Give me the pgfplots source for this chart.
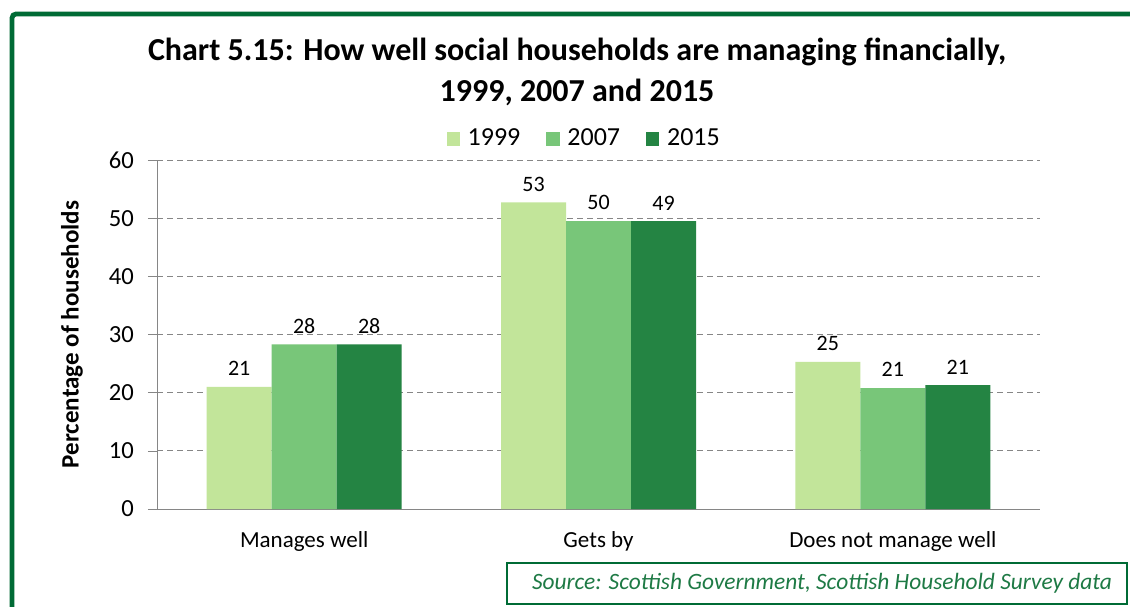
\documentclass[border=0pt]{standalone}
\usepackage{fontspec}
\setmainfont{Carlito}
\usepackage{pgfplots}
\pgfplotsset{compat=1.18}
\definecolor{framegreen}{HTML}{006B35}
\definecolor{cA}{HTML}{C2E59A}
\definecolor{cB}{HTML}{78C679}
\definecolor{cC}{HTML}{248443}
\definecolor{axgray}{HTML}{868686}
\definecolor{srcgreen}{HTML}{1E7A45}

\begin{document}
\begin{tikzpicture}[x=0.5pt,y=0.5pt]
\clip (0,0) rectangle (1130,606);
\fill[white] (0,0) rectangle (1130,606);
% outer frame
\draw[framegreen, line width=2.4pt, rounded corners=2pt] (12,-20) -- (12,592) -- (1160,592);
% title
\node[font=\fontsize{16}{20.5}\selectfont\bfseries, align=center] at (577,534)
  {Chart 5.15: How well social households are managing financially,\\1999, 2007 and 2015};
% source box
\draw[framegreen, line width=0.8pt] (507,43) rectangle (1127,2);
\node[font=\fontsize{11.7}{13}\selectfont\itshape, text=srcgreen] at (822,23)
  {Source: Scottish Government, Scottish Household Survey data};

\begin{axis}[
  at={(78.5pt,48.5pt)}, anchor=south west,
  scale only axis, width=441.5pt, height=174.5pt,
  ybar=0pt, bar width=32.5pt,
  xmin=-0.5, xmax=2.5, ymin=0, ymax=60,
  xtick={0,1,2},
  xticklabels={Manages well, Gets by, Does not manage well},
  x tick label style={font=\fontsize{11.5}{13}\selectfont, yshift=-3pt},
  major x tick style={draw=none},
  extra x ticks={-0.5,0.5,1.5,2.5},
  extra x tick labels={},
  extra x tick style={major tick length=4pt, tick style={axgray}, grid=none},
  ytick={0,10,...,60},
  y tick label style={font=\fontsize{12.3}{14}\selectfont, xshift=-3.5pt},
  /pgf/number format/assume math mode=true,
  tick align=outside,
  major tick length=4.5pt,
  tick style={axgray},
  ymajorgrids,
  grid style={axgray, densely dashed, line width=0.4pt},
  axis x line*=bottom, axis y line*=left,
  axis line style={axgray,-},
  ylabel={Percentage of households},
  ylabel style={font=\fontsize{12.5}{14}\selectfont\bfseries, at={(rel axis cs:-0.0963,0.5)}, anchor=center},
  point meta=explicit symbolic,
  nodes near coords={\pgfplotspointmeta},
  nodes near coords style={font=\fontsize{11}{13}\selectfont, yshift=2pt},
  legend columns=3,
  legend style={draw=none, at={(rel axis cs:0.485,1.06)}, anchor=center,
    font=\fontsize{13}{15}\selectfont, /tikz/every even column/.append style={column sep=11pt}},
  legend image code/.code={\fill[#1] (0pt,-3.3pt) rectangle (6.6pt,3.3pt); \path (8.5pt,0pt);},
]
\addplot[fill=cA, draw=none] coordinates {(0,21.0) [21] (1,52.7) [53] (2,25.3) [25]};
\addplot[fill=cB, draw=none] coordinates {(0,28.3) [28] (1,49.5) [50] (2,20.8) [21]};
\addplot[fill=cC, draw=none] coordinates {(0,28.3) [28] (1,49.5) [49] (2,21.3) [21]};
\legend{1999, 2007, 2015}
\end{axis}
\end{tikzpicture}
\end{document}
